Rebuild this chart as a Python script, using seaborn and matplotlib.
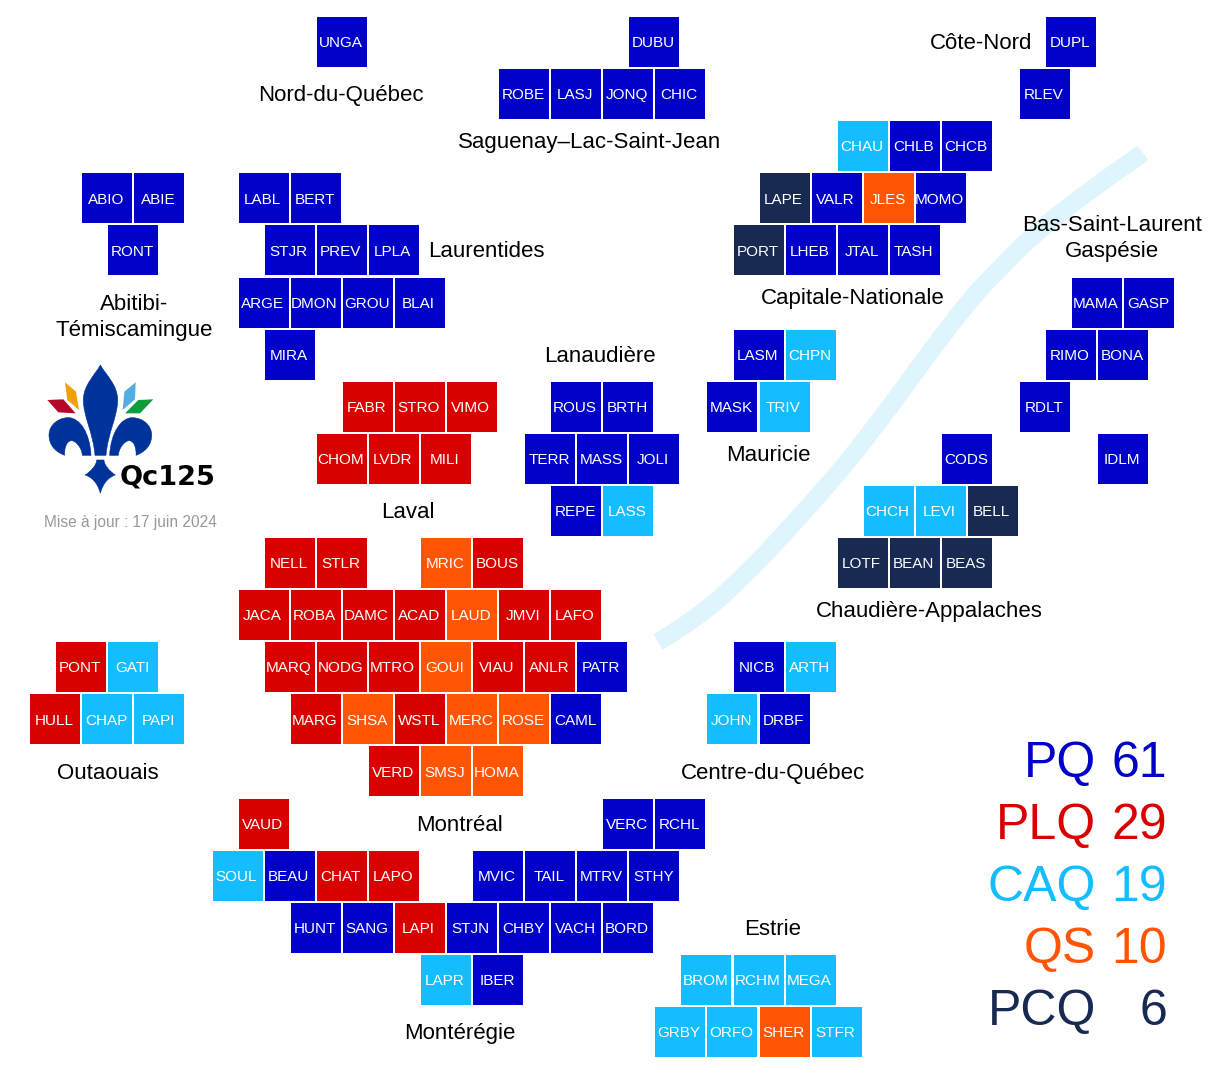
import matplotlib
matplotlib.use("Agg")
import matplotlib.pyplot as plt
import pandas as pd
import seaborn as sns

from matplotlib.patches import PathPatch, Polygon
from matplotlib.path import Path

# --------------------------------------------------
# 1. Data
# --------------------------------------------------
codes = [
    "UNGA", "DUBU", "DUPL",
    "ROBE", "LASJ", "JONQ", "CHIC", "RLEV",
    "CHAU", "CHLB", "CHCB",
    "ABIO", "ABIE", "LABL", "BERT", "LAPE", "VALR", "JLES", "MOMO",
    "RONT", "STJR", "PREV", "LPLA", "PORT", "LHEB", "JTAL", "TASH",
    "ARGE", "DMON", "GROU", "BLAI", "MAMA", "GASP",
    "MIRA", "LASM", "CHPN", "RIMO", "BONA",
    "FABR", "STRO", "VIMO", "ROUS", "BRTH", "MASK", "TRIV", "RDLT",
    "CHOM", "LVDR", "MILI", "TERR", "MASS", "JOLI", "CODS", "IDLM",
    "REPE", "LASS", "CHCH", "LEVI", "BELL",
    "NELL", "STLR", "MRIC", "BOUS", "LOTF", "BEAN", "BEAS",
    "JACA", "ROBA", "DAMC", "ACAD", "LAUD", "JMVI", "LAFO",
    "PONT", "GATI", "MARQ", "NODG", "MTRO", "GOUI", "VIAU", "ANLR", "PATR", "NICB", "ARTH",
    "HULL", "CHAP", "PAPI", "MARG", "SHSA", "WSTL", "MERC", "ROSE", "CAML", "JOHN", "DRBF",
    "VERD", "SMSJ", "HOMA",
    "VAUD", "VERC", "RCHL",
    "SOUL", "BEAU", "CHAT", "LAPO", "MVIC", "TAIL", "MTRV", "STHY",
    "HUNT", "SANG", "LAPI", "STJN", "CHBY", "VACH", "BORD",
    "LAPR", "IBER", "BROM", "RCHM", "MEGA",
    "GRBY", "ORFO", "SHER", "STFR",
]
grid_cols = [
    12, 24, 40,
    19, 21, 23, 25, 39,
    32, 34, 36,
    3, 5, 9, 11, 29, 31, 33, 35,
    4, 10, 12, 14, 28, 30, 32, 34,
    9, 11, 13, 15, 41, 43,
    10, 28, 30, 40, 42,
    13, 15, 17, 21, 23, 27, 29, 39,
    12, 14, 16, 20, 22, 24, 36, 42,
    21, 23, 33, 35, 37,
    10, 12, 16, 18, 32, 34, 36,
    9, 11, 13, 15, 17, 19, 21,
    2, 4, 10, 12, 14, 16, 18, 20, 22, 28, 30,
    1, 3, 5, 11, 13, 15, 17, 19, 21, 27, 29,
    14, 16, 18,
    9, 23, 25,
    8, 10, 12, 14, 18, 20, 22, 24,
    11, 13, 15, 17, 19, 21, 23,
    16, 18, 26, 28, 30,
    25, 27, 29, 31,
]
row_sizes = [3, 5, 3, 8, 8, 6, 5, 8, 8, 5, 7, 7, 11, 11, 3, 3, 8, 7, 5, 4]
parties = [
    "PQ", "PQ", "PQ",
    "PQ", "PQ", "PQ", "PQ", "PQ",
    "CAQ", "PQ", "PQ",
    "PQ", "PQ", "PQ", "PQ", "PCQ", "PQ", "QS", "PQ",
    "PQ", "PQ", "PQ", "PQ", "PCQ", "PQ", "PQ", "PQ",
    "PQ", "PQ", "PQ", "PQ", "PQ", "PQ",
    "PQ", "PQ", "CAQ", "PQ", "PQ",
    "PLQ", "PLQ", "PLQ", "PQ", "PQ", "PQ", "CAQ", "PQ",
    "PLQ", "PLQ", "PLQ", "PQ", "PQ", "PQ", "PQ", "PQ",
    "PQ", "CAQ", "CAQ", "CAQ", "PCQ",
    "PLQ", "PLQ", "QS", "PLQ", "PCQ", "PCQ", "PCQ",
    "PLQ", "PLQ", "PLQ", "PLQ", "QS", "PLQ", "PLQ",
    "PLQ", "CAQ", "PLQ", "PLQ", "PLQ", "QS", "PLQ", "PLQ", "PQ", "PQ", "CAQ",
    "PLQ", "CAQ", "CAQ", "PLQ", "QS", "PLQ", "QS", "QS", "PQ", "CAQ", "PQ",
    "PLQ", "QS", "QS",
    "PLQ", "PQ", "PQ",
    "CAQ", "PQ", "PLQ", "PLQ", "PQ", "PQ", "PQ", "PQ",
    "PQ", "PQ", "PLQ", "PQ", "PQ", "PQ", "PQ",
    "CAQ", "PQ", "CAQ", "CAQ", "CAQ",
    "CAQ", "CAQ", "QS", "CAQ",
]

party_names = ["PQ", "PLQ", "CAQ", "QS", "PCQ"]
party_seats = [61, 29, 19, 10, 6]
party_colors = ["#0000C8", "#D90000", "#13BDFF", "#FF5505", "#182952"]

region_names = [
    "Nord-du-Québec", "Saguenay–Lac-Saint-Jean", "Côte-Nord", "Bas-Saint-Laurent", "Gaspésie",
    "Abitibi-", "Témiscamingue", "Laurentides", "Lanaudière", "Capitale-Nationale", "Mauricie",
    "Laval", "Chaudière-Appalaches", "Outaouais", "Centre-du-Québec", "Montréal", "Estrie",
    "Montérégie",
]
region_x = [341, 590, 981, 1112, 1112, 134, 134, 486, 600, 853, 768, 408, 929, 108, 773, 460, 773, 460]
region_y = [101, 148, 49, 231, 257, 310, 336, 257, 362, 304, 461, 518, 617, 779, 779, 831, 935, 1039]

# St. Lawrence band, control points in pixels
river_x = [658, 700, 750, 783, 817, 845, 870, 895, 932, 972, 1003, 1035, 1090, 1143]
river_y = [642, 617, 570, 535, 497, 465, 433, 400, 349, 297, 265, 233, 190, 153]

# --------------------------------------------------
# 2. Figure setup
# --------------------------------------------------
WIDTH, HEIGHT = 1213, 1074
X0, Y0 = 29.1, 42
COL_STEP, ROW_STEP = 26.05, 52.1

sns.set_style("white")
plt.rcParams["font.family"] = ["Liberation Sans", "DejaVu Sans"]

fig = plt.figure(figsize=(WIDTH / 100, HEIGHT / 100), dpi=100)
bg = fig.add_axes([0, 0, 1, 1])
bg.set_xlim(0, WIDTH)
bg.set_ylim(HEIGHT, 0)
bg.axis("off")

ax = fig.add_axes([0, 0, 1, 1])
ax.patch.set_alpha(0)

# --------------------------------------------------
# 3. River
# --------------------------------------------------
verts = [(river_x[0], river_y[0])]
moves = [Path.MOVETO]
for i in range(1, len(river_x) - 1):
    mid = ((river_x[i] + river_x[i + 1]) / 2, (river_y[i] + river_y[i + 1]) / 2)
    verts += [(river_x[i], river_y[i]), mid]
    moves += [Path.CURVE3, Path.CURVE3]
verts.append((river_x[-1], river_y[-1]))
moves.append(Path.LINETO)
bg.add_patch(PathPatch(Path(verts, moves), fill=False, edgecolor="#DFF5FE", linewidth=13, capstyle="butt"))

# --------------------------------------------------
# 4. Tiles
# --------------------------------------------------
grid_rows = [r for r, n in enumerate(row_sizes) for _ in range(n)]
seats = pd.DataFrame({"code": codes, "col": grid_cols, "row": grid_rows, "party": parties})

sns.scatterplot(
    data=seats, x="col", y="row", hue="party",
    hue_order=party_names, palette=party_colors,
    marker="s", s=36 ** 2, linewidth=0, legend=False, ax=ax,
)
ax.set_xlim(-X0 / COL_STEP, (WIDTH - X0) / COL_STEP)
ax.set_ylim((HEIGHT - Y0) / ROW_STEP, -Y0 / ROW_STEP)
ax.axis("off")

for _, seat in seats.iterrows():
    ax.annotate(seat["code"], (seat["col"], seat["row"]), xytext=(-0.8, 0.2), textcoords="offset points",
                ha="center", va="center_baseline", color="white", fontsize=11)

# --------------------------------------------------
# 5. Region names and seat totals
# --------------------------------------------------
for name, x, y in zip(region_names, region_x, region_y):
    bg.text(x, y, name, ha="center", va="baseline", fontsize=16, color="black", zorder=5)

for i, (name, seat_count, color) in enumerate(zip(party_names, party_seats, party_colors)):
    base = 777 + 62 * i
    bg.text(1096, base, name, ha="right", va="baseline", fontsize=36, color=color)
    bg.text(1167, base, str(seat_count), ha="right", va="baseline", fontsize=36, color=color)

# --------------------------------------------------
# 6. Logo
# --------------------------------------------------
def logo_xy(points):
    return [(x / 3 + 30, y / 3 + 350) for x, y in points]


def mirror(points):
    return [(422 - x, y) for x, y in points]


C4 = Path.CURVE4
petal = [(211, 45), (195, 75), (160, 105), (160, 150), (160, 200), (190, 250), (195, 316),
         (228, 316), (233, 250), (263, 200), (263, 150), (263, 105), (228, 75), (211, 45)]
petal_codes = [Path.MOVETO, C4, C4, C4, C4, C4, C4, Path.LINETO, C4, C4, C4, C4, C4, C4]
lobe = [(183, 316), (157, 316), (155, 290), (135, 272), (125, 272), (110, 272), (102, 295), (104, 316),
        (75, 305), (57, 285), (57, 255), (57, 225), (85, 203), (115, 203), (150, 203), (180, 250), (183, 316)]
lobe_codes = [Path.MOVETO, Path.LINETO] + [C4] * 15
foot = [(200, 330), (222, 330), (222, 345), (240, 365), (256, 375), (240, 380), (220, 395), (211, 430),
        (202, 395), (182, 380), (165, 375), (182, 365), (200, 345), (200, 330)]
foot_codes = [Path.MOVETO, Path.LINETO] + [C4] * 12

for pts, cds in [(petal, petal_codes), (lobe, lobe_codes), (mirror(lobe), lobe_codes), (foot, foot_codes)]:
    bg.add_patch(PathPatch(Path(logo_xy(pts), cds), facecolor="#003399", edgecolor="#003399", linewidth=0.4))

bg.add_patch(Polygon(logo_xy([(52, 150), (100, 148), (137, 190), (85, 187)]), facecolor="#B5092C", edgecolor="none"))
bg.add_patch(Polygon(logo_xy([(105, 97), (138, 125), (147, 180), (112, 150)]), facecolor="#F0A000", edgecolor="none"))
bg.add_patch(Polygon(logo_xy([(317, 97), (315, 148), (278, 180), (283, 125)]), facecolor="#55AEE3", edgecolor="none"))
bg.add_patch(Polygon(logo_xy([(370, 148), (330, 190), (285, 190), (325, 150)]), facecolor="#0F9D3C", edgecolor="none"))

bg.text(120, 485, "Qc125", ha="left", va="baseline", fontsize=19.5, fontweight="bold", color="black",
        family="DejaVu Sans")
bg.text(130, 527, "Mise à jour : 17 juin 2024", ha="center", va="baseline", fontsize=11.2, color="#999999")

fig.savefig("out.png", dpi=100)
